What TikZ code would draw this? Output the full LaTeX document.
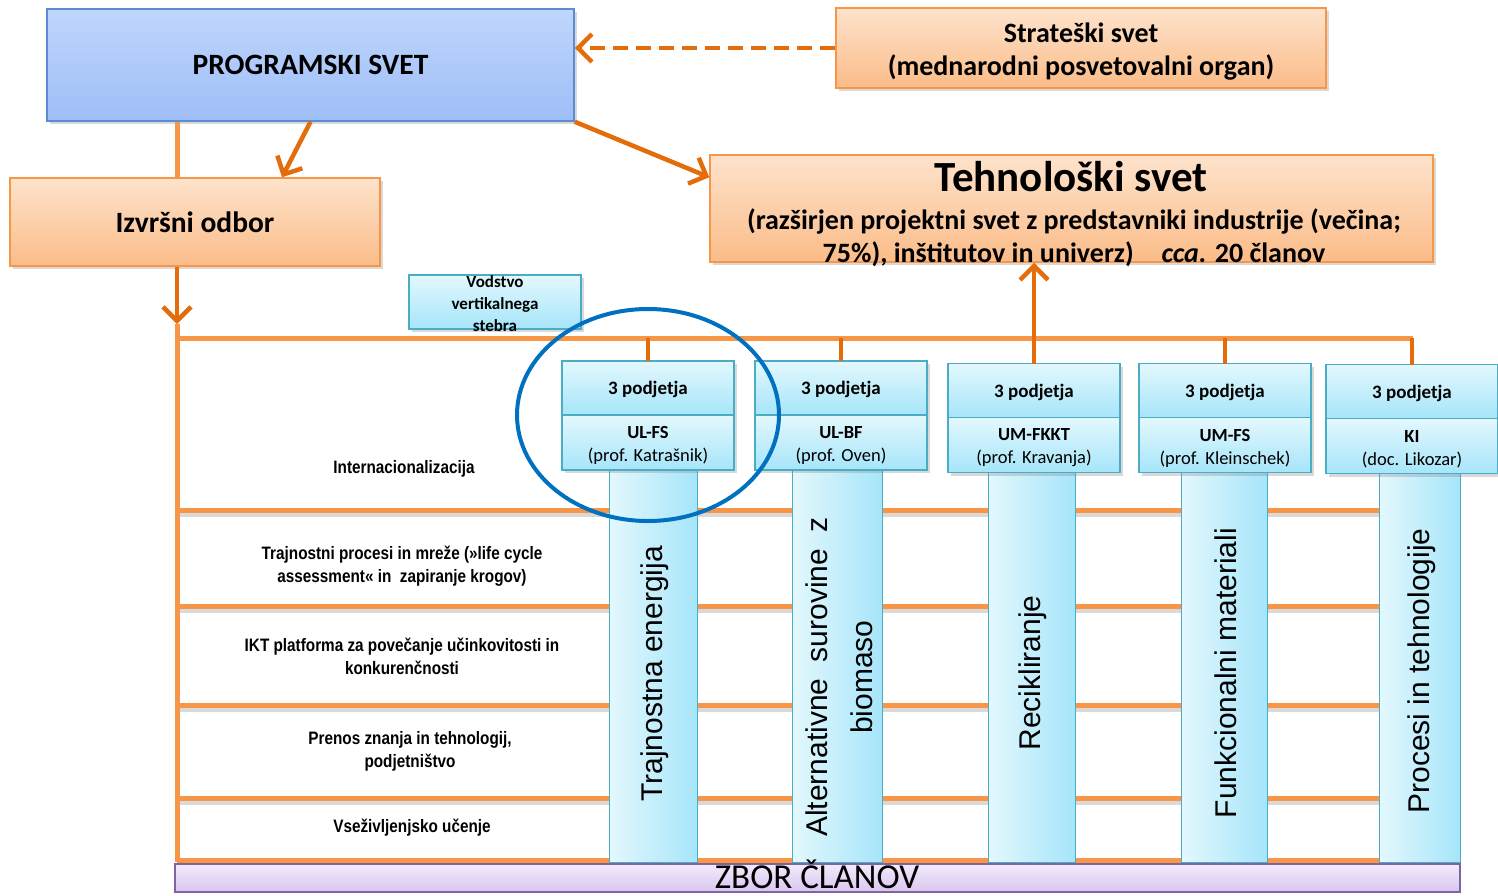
\documentclass[tikz,border=0pt]{standalone}
\usepackage{fontspec}
\setmainfont{Carlito}
\newfontfamily\arialfont{Liberation Sans}
\newfontfamily\narrowfont[FakeStretch=0.85]{Liberation Sans}
\usetikzlibrary{positioning,arrows.meta,shadows,calc}

\definecolor{progtop}{HTML}{BFD6FC}
\definecolor{progbot}{HTML}{9EBEF8}
\definecolor{progline}{HTML}{5B8BD0}
\definecolor{ortop}{HTML}{FDE3CC}
\definecolor{orbot}{HTML}{FBBC88}
\definecolor{orline}{HTML}{F79646}
\definecolor{tealtop}{HTML}{E3F8FD}
\definecolor{tealbot}{HTML}{A6E5FA}
\definecolor{tealline}{HTML}{4BACC6}
\definecolor{zbortop}{HTML}{F3EBFB}
\definecolor{zborbot}{HTML}{D8C5EE}
\definecolor{zborline}{HTML}{8064A2}
\definecolor{arrdark}{HTML}{E46C0A}
\definecolor{linelight}{HTML}{F79646}
\definecolor{ringblue}{HTML}{0070C0}

\begin{document}
\begin{tikzpicture}[x=1pt,y=-1pt,
    boxshadow/.style={drop shadow={shadow xshift=3pt,shadow yshift=-3pt,opacity=0.3}},
    bigbox/.style={rectangle, line width=1.5pt, inner sep=0pt, boxshadow},
    progbox/.style={bigbox, draw=progline, top color=progtop, bottom color=progbot},
    orangebox/.style={bigbox, draw=orline, top color=ortop, bottom color=orbot},
    tealbox/.style={rectangle, draw=tealline, line width=1.5pt, top color=tealtop,
      bottom color=tealbot, minimum width=172pt, inner sep=0pt, outer sep=0pt, boxshadow},
    column/.style={rectangle, draw=tealline, line width=1pt, left color=tealtop,
      right color=tealbot, minimum height=392pt, inner sep=0pt},
    title/.style={font=\bfseries\fontsize{29.5}{32}\selectfont},
    boxfont/.style={font=\bfseries\fontsize{19}{22}\selectfont},
    unifont/.style={font=\fontsize{18.5}{23}\selectfont},
    coltext/.style={rotate=90, font=\arialfont\fontsize{30}{45}\selectfont},
    rowlabel/.style={align=center, font=\narrowfont\bfseries\fontsize{18}{23}\selectfont},
    arrow/.style={draw=arrdark, line width=4.5pt, -{Straight Barb[length=14pt,width=28pt]}},
    trunk/.style={draw=linelight, line width=5pt},
    stub/.style={draw=arrdark, line width=4pt},
    rowline/.style={draw=linelight, line width=5pt},
    ring/.style={draw=ringblue, line width=4pt}
  ]
\clip (0,0) rectangle (1498,895);

% table rows
\foreach \y in {510,606,705,798,860}{
  \draw[gray!30, line width=4pt] (179,\y+5) -- (1379,\y+5);
  \draw[rowline] (177,\y) -- (1379,\y);
}

\coordinate (busL) at (177,338);
\coordinate (busR) at (1413,338);
\coordinate (tip) at (177,324);
\coordinate (trunkB) at (177,862);

% vertical pillars
\foreach \i/\x/\w in {1/653/88, 2/837/90, 3/1031.5/87, 4/1224/86, 5/1419.5/81}
  \node[column, minimum width=\w pt] (c\i) at (\x,666) {};

\node[coltext] (t1) at (655,674) {Trajnostna energija};
\node[coltext, align=center] (t2) at (839.5,677) {Alternativne\hspace{8pt} surovine\hspace{8pt} z\\biomaso};
\node[coltext] (t3) at (1033,673) {Recikliranje};
\node[coltext] (t4) at (1226,673) {Funkcionalni materiali};
\node[coltext] (t5) at (1422,671) {Procesi in tehnologije};

% row labels
\node[rowlabel] (l1) at (404,469) {Internacionalizacija};
\node[rowlabel] (l2) at (402,566) {Trajnostni procesi in mreže (»life cycle\\assessment« in\ \ zapiranje krogov)};
\node[rowlabel] (l3) at (402,656) {IKT platforma za povečanje učinkovitosti in\\konkurenčnosti};
\node[rowlabel] (l4) at (410,751) {Prenos znanja in tehnologij,\\podjetništvo};
\node[rowlabel] (l5) at (412,828) {Vseživljenjsko učenje};

% pillar heads
\foreach \i/\x/\y/\uni/\head in {1/648/388/UL-FS/prof. Katrašnik, 2/841/388/UL-BF/prof. Oven,
    3/1034/390.5/UM-FKKT/prof. Kravanja, 4/1225/390.5/UM-FS/prof. Kleinschek,
    5/1412/391.5/KI/doc. Likozar}{
  \node[tealbox, minimum height=54pt, boxfont, text depth=-4pt] (p\i) at (\x,\y) {3 podjetja};
  \node[tealbox, minimum height=55pt, below=0pt of p\i] (u\i) {};
  \node[align=center, unifont] (ut\i) at ([yshift=-3pt]u\i.center) {\textbf{\uni}\\(\head)};
}

% main boxes
\node[progbox, minimum width=527pt, minimum height=112pt, title] (prog) at (310.5,65) {PROGRAMSKI SVET};
\node[orangebox, minimum width=490pt, minimum height=80pt] (strat) at (1081,48) {};
\node[align=center, font=\bfseries\fontsize{28}{33}\selectfont] (strattxt) at (1081,52)
  {Strateški svet\\(mednarodni posvetovalni organ)};
\node[orangebox, minimum width=723pt, minimum height=107pt] (tech) at (1071.5,208.5) {};
\node[font=\bfseries\fontsize{43}{46}\selectfont] (techtitle) at (1071,177) {Tehnološki svet};
\node[align=center, font=\bfseries\fontsize{28}{33}\selectfont] (techsub) at (1074,238)
  {(razširjen projektni svet z predstavniki industrije (večina;\\75\%), inštitutov in univerz)\quad\textit{cca.} 20 članov};
\node[orangebox, minimum width=370pt, minimum height=88pt, title] (izvrsni) at (195,222) {Izvršni odbor};
\node[tealbox, minimum height=54pt] (vodstvo) at (495,302) {};
\node[align=center, font=\bfseries\fontsize{17}{22}\selectfont] (vodstvotxt) at (495,304) {Vodstvo\\vertikalnega\\stebra};

% connectors
\draw[trunk] (prog.south -| tip) -- (izvrsni.north -| tip);
\draw[arrow] (izvrsni.south -| tip) -- (tip);
\draw[trunk] (tip) -- (trunkB);
\draw[trunk] (busL) -- (busR);
\foreach \i in {1,2,4,5}
  \draw[stub] (busL -| p\i.north) -- (p\i.north);
\draw[arrow] (p3.north) -- (p3.north |- tech.south);
\draw[arrow] (prog.south) -- ($(izvrsni.north)+(87,0)$);
\draw[arrow] (prog.south east) -- ($(tech.north west)+(0,23)$);
\draw[arrow, dash pattern=on 15pt off 8pt] (strat.west) -- (strat.west -| prog.east);

\draw[ring] (p1.south) ellipse [x radius=131pt, y radius=106pt];

% members
\node[rectangle, draw=zborline, line width=1.5pt, top color=zbortop, bottom color=zborbot,
  minimum width=1285pt, minimum height=28pt, inner sep=0pt] (zbor) at (817.5,878) {};
\node[anchor=base, inner sep=0pt, font=\fontsize{35}{40}\selectfont] (zbortxt) at (817,888) {ZBOR ČLANOV};
\end{tikzpicture}
\end{document}
